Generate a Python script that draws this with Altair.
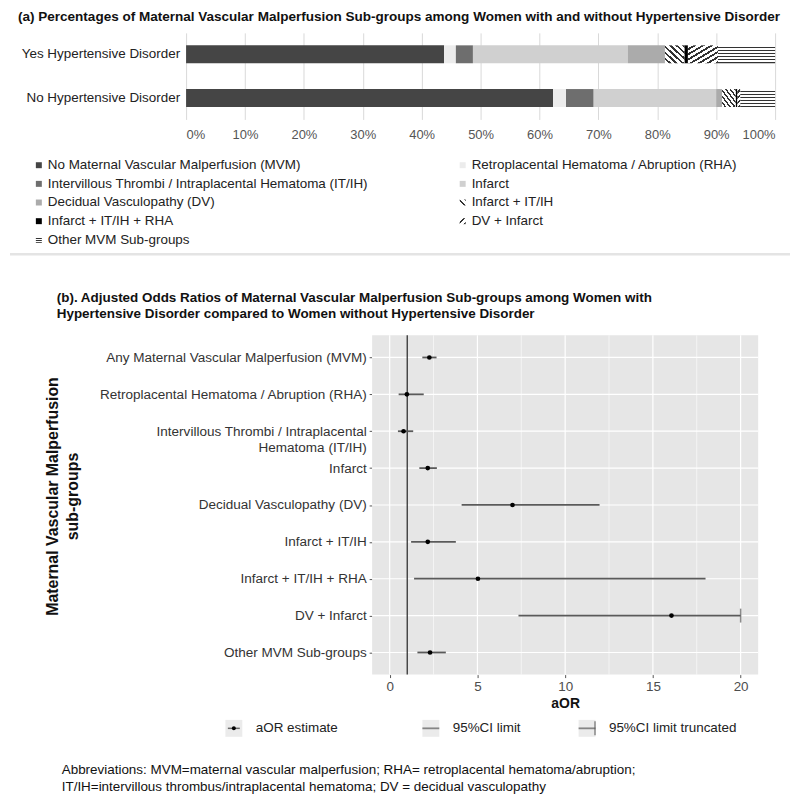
import altair as alt
import pandas as pd

FONT = "Liberation Sans, Arial, sans-serif"
W = 784

# ---------------- data: panel (a) ----------------
groups = ["Yes Hypertensive Disorder", "No Hypertensive Disorder"]
subgroups = [
    "No Maternal Vascular Malperfusion (MVM)",
    "Retroplacental Hematoma / Abruption (RHA)",
    "Intervillous Thrombi / Intraplacental Hematoma (IT/IH)",
    "Infarct",
    "Decidual Vasculopathy (DV)",
    "Infarct + IT/IH",
    "Infarct + IT/IH + RHA",
    "DV + Infarct",
    "Other MVM Sub-groups",
]
yes_pct = [43.8, 2.0, 2.9, 26.3, 6.3, 3.3, 0.6, 5.1, 9.7]
no_pct = [62.3, 2.2, 4.7, 20.8, 1.0, 2.3, 0.3, 0.5, 5.9]
pct_ticks = [0, 10, 20, 30, 40, 50, 60, 70, 80, 90, 100]

solid_subs = [subgroups[i] for i in (0, 1, 2, 3, 4, 6)]
solid_cols = ["#454545", "#ececec", "#6e6e6e", "#d0d0d0", "#ababab", "#000000"]

# ---------------- data: panel (b) ----------------
forest_labels = [
    "Any Maternal Vascular Malperfusion (MVM)",
    "Retroplacental Hematoma / Abruption (RHA)",
    "Intervillous Thrombi / Intraplacental\nHematoma (IT/IH)",
    "Infarct",
    "Decidual Vasculopathy (DV)",
    "Infarct + IT/IH",
    "Infarct + IT/IH + RHA",
    "DV + Infarct",
    "Other MVM Sub-groups",
]
aor = [2.26, 0.98, 0.79, 2.17, 7.0, 2.17, 5.03, 16.06, 2.30]
ci_low = [1.86, 0.51, 0.47, 1.69, 4.1, 1.22, 1.39, 7.34, 1.58]
ci_high = [2.67, 1.94, 1.34, 2.69, 11.96, 3.77, 18.0, 20.0, 3.2]
truncated = [False, False, False, False, False, False, False, True, False]
aor_limits = [-1, 21]
major_ticks = [0, 5, 10, 15, 20]
minor_ticks = [2.5, 7.5, 12.5, 17.5]
null_value = [1]
legend_b_items = ["aOR estimate", "95%CI limit", "95%CI limit truncated"]

title_a = ("(a) Percentages of Maternal Vascular Malperfusion Sub-groups among Women "
           "with and without Hypertensive Disorder")
title_b = ["(b). Adjusted Odds Ratios of Maternal Vascular Malperfusion Sub-groups among Women with",
           "Hypertensive Disorder compared to Women without Hypertensive Disorder"]
y_title_b = ["Maternal Vascular Malperfusion", "sub-groups"]
abbrev = ["Abbreviations: MVM=maternal vascular malperfusion; RHA= retroplacental hematoma/abruption;",
          "IT/IH=intervillous thrombus/intraplacental hematoma; DV = decidual vasculopathy"]


def stripes(n, frac=0.42, dark="#333333", light="#ffffff"):
    st = []
    for k in range(n):
        a, b, c = k / n, (k + 1 - frac) / n, (k + 1) / n
        st += [{"offset": a, "color": light}, {"offset": b, "color": light},
               {"offset": b, "color": dark}, {"offset": c, "color": dark}]
    return st


def grad(n, x1, y1, x2, y2, frac=0.42):
    return {"gradient": "linear", "x1": x1, "y1": y1, "x2": x2, "y2": y2,
            "stops": stripes(n, frac)}


hatches = {
    "Infarct + IT/IH": grad(6, 0, 1, 1, 0),
    "DV + Infarct": grad(7, 0, 0, 1, 1),
    "Other MVM Sub-groups": grad(6, 0, 0, 0, 1, 0.4),
}
legend_hatches = {
    "Infarct + IT/IH": grad(2, 0, 1, 1, 0, 0.35),
    "DV + Infarct": grad(2, 0, 0, 1, 1, 0.35),
    "Other MVM Sub-groups": grad(3, 0, 0, 0, 1, 0.4),
}

# ---------------- P0: title (a) ----------------
p0 = alt.Chart(pd.DataFrame({"t": [title_a]})).mark_text(
    align="center", baseline="top", font=FONT, fontSize=13.6, fontWeight="bold", color="#111"
).encode(text="t:N", x=alt.value(391), y=alt.value(0)).properties(width=W, height=23)

# ---------------- P1: stacked bars ----------------
rows = []
for g, vals in zip(groups, [yes_pct, no_pct]):
    for i, (s, v) in enumerate(zip(subgroups, vals)):
        rows.append({"group": g, "sub": s, "pct": v, "order": i})
bar_df = pd.DataFrame(rows)

xs_a = alt.Scale(domain=[0, 100], range=[177, 769], nice=False)
ys_a = alt.Scale(domain=groups, range=[0, 87], paddingInner=0.59, paddingOuter=0.285)
x_axis_a = alt.Axis(values=pct_ticks, labelExpr="datum.value + '%'", grid=True, gridColor="#d9d9d9",
                    gridWidth=1, domain=False, ticks=False, labelPadding=9, labelFontSize=13,
                    labelColor="#555", labelFont=FONT, title=None)
base = alt.Chart(bar_df).transform_stack(
    stack="pct", as_=["x0", "x1"], groupby=["group"], sort=[alt.SortField("order", order="ascending")]
)
x_a = alt.X("x0:Q", scale=xs_a, axis=x_axis_a)
y_a = alt.Y("group:N", scale=ys_a, axis=None)

solid_layer = base.transform_filter(alt.FieldOneOfPredicate(field="sub", oneOf=solid_subs)).mark_bar().encode(
    x=x_a, x2="x1:Q", y=y_a,
    color=alt.Color("sub:N", scale=alt.Scale(domain=solid_subs, range=solid_cols), legend=None),
)
hatch_layers = [
    base.transform_filter(alt.FieldEqualPredicate(field="sub", equal=s)).mark_bar(fill=g, stroke=None).encode(
        x=x_a, x2="x1:Q", y=y_a)
    for s, g in hatches.items()
]
row_labels = alt.Chart(pd.DataFrame({"group": groups})).mark_text(
    align="right", baseline="middle", font=FONT, fontSize=13.5, color="#222"
).encode(y=y_a, x=alt.value(171), text="group:N")

p1 = alt.layer(solid_layer, *hatch_layers, row_labels).properties(width=W, height=87)

# ---------------- P2: legend (a) ----------------
leg_df = pd.DataFrame({"sub": subgroups, "col": [i % 2 for i in range(9)], "row": [i // 2 for i in range(9)]})
lx = alt.Scale(domain=[0, 1], range=[38, 464])
ly = alt.Scale(domain=[0, 4], range=[46, 121])
leg_base = alt.Chart(leg_df)
leg_solid = leg_base.transform_filter(alt.FieldOneOfPredicate(field="sub", oneOf=solid_subs)).mark_square(
    size=36, opacity=1, xOffset=-9).encode(
    x=alt.X("col:Q", scale=lx, axis=None), y=alt.Y("row:Q", scale=ly, axis=None),
    color=alt.Color("sub:N", scale=alt.Scale(domain=solid_subs, range=solid_cols), legend=None))
leg_hatch = [
    leg_base.transform_filter(alt.FieldEqualPredicate(field="sub", equal=s)).mark_square(
        size=36, opacity=1, fill=g, xOffset=-9).encode(
        x=alt.X("col:Q", scale=lx, axis=None), y=alt.Y("row:Q", scale=ly, axis=None))
    for s, g in legend_hatches.items()
]
leg_text = leg_base.mark_text(align="left", baseline="middle", font=FONT, fontSize=13.5, color="#222").encode(
    x=alt.X("col:Q", scale=lx, axis=None), y=alt.Y("row:Q", scale=ly, axis=None), text="sub:N")
p2 = alt.layer(leg_solid, *leg_hatch, leg_text).properties(width=W, height=136)

# ---------------- P2b: separator + title (b) ----------------
sep = alt.Chart(pd.DataFrame({"a": [0]})).mark_rule(color="#e4e4e4", strokeWidth=2.5).encode(
    x=alt.value(0), x2=alt.value(W), y=alt.value(-0.5))
tb = alt.Chart(pd.DataFrame({"a": [0]})).mark_text(
    text=title_b, align="left", baseline="top", font=FONT, fontSize=13.5, fontWeight="bold",
    lineHeight=17, color="#111").encode(x=alt.value(47), y=alt.value(36))
p2b = alt.layer(sep, tb).properties(width=W, height=81)

# ---------------- P3: forest plot ----------------
forest_df = pd.DataFrame({"label": forest_labels, "aor": aor, "lo": ci_low, "hi": ci_high,
                          "trunc": truncated, "plo": aor_limits[0], "phi": aor_limits[1]})
xs_b = alt.Scale(domain=aor_limits, range=[364, 752], nice=False, zero=False)
ys_b = alt.Scale(type="point", domain=forest_labels, range=[0, 341], padding=0.6)
x_axis_b = alt.Axis(values=major_ticks, grid=False, domain=False, tickSize=3, tickColor="#555",
                    labelFontSize=13.5, labelColor="#4d4d4d", labelFont=FONT, labelPadding=2,
                    title="aOR", titleFont=FONT, titleFontSize=14, titleFontWeight="bold",
                    titleColor="#111", titlePadding=4)
y_axis_b = alt.Axis(orient="left", offset=-364, labelLimit=400, labelFontSize=13.6, labelColor="#333",
                    labelFont=FONT, labelExpr="split(datum.label, '\\n')", labelLineHeight=16,
                    tickSize=3, tickColor="#555", domain=False, grid=False, labelPadding=3, title=None)


def xb(f):
    return alt.X(f, type="quantitative", scale=xs_b, axis=x_axis_b)


yb = alt.Y("label:N", scale=ys_b, axis=y_axis_b)

bg = alt.Chart(pd.DataFrame({"plo": [aor_limits[0]], "phi": [aor_limits[1]]})).mark_rect(
    color="#e6e6e6").encode(x=xb("plo"), x2="phi:Q")
minor = alt.Chart(pd.DataFrame({"v": minor_ticks})).mark_rule(color="white", strokeWidth=0.6).encode(x=xb("v"))
major = alt.Chart(pd.DataFrame({"v": major_ticks})).mark_rule(color="white", strokeWidth=1.2).encode(x=xb("v"))
hgrid = alt.Chart(forest_df).mark_rule(color="white", strokeWidth=1.2).encode(x=xb("plo"), x2="phi:Q", y=yb)
ref = alt.Chart(pd.DataFrame({"v": null_value})).mark_rule(color="#333", strokeWidth=1.3).encode(x=xb("v"))
ci = alt.Chart(forest_df).mark_rule(color="#5a5a5a", strokeWidth=1.8).encode(x=xb("lo"), x2="hi:Q", y=yb)
trunc_mark = alt.Chart(forest_df).transform_filter("datum.trunc").mark_tick(
    color="#5a5a5a", size=14, thickness=1.5).encode(x=xb("hi"), y=yb)
pts = alt.Chart(forest_df).mark_circle(size=22, color="black", opacity=1).encode(x=xb("aor"), y=yb)
ytitle = alt.Chart(pd.DataFrame({"a": [0]})).mark_text(
    text=y_title_b, angle=270, align="center", baseline="middle", font=FONT, fontSize=16,
    fontWeight="bold", lineHeight=20, color="#111").encode(x=alt.value(43), y=alt.value(162))

p3 = alt.layer(bg, minor, major, hgrid, ref, ci, trunc_mark, pts, ytitle).properties(width=W, height=341)

# ---------------- P4: legend (b) + abbreviations ----------------
lb_df = pd.DataFrame({"item": legend_b_items, "pos": [0, 1, 2]})
lbx = alt.Scale(domain=[0, 1, 2], range=[225, 423, 580])
lb_x = alt.X("pos:Q", scale=lbx, axis=None)
lb_y = alt.value(54)
lbase = alt.Chart(lb_df)
lb_bg = lbase.mark_square(size=289, color="#ebebeb", opacity=1).encode(x=lb_x, y=lb_y)
lb_line0 = lbase.transform_filter("datum.pos == 0").mark_tick(
    orient="horizontal", size=12, thickness=1.5, color="#333").encode(x=lb_x, y=lb_y)
lb_line12 = lbase.transform_filter("datum.pos > 0").mark_tick(
    orient="horizontal", size=17, thickness=1.8, color="#5a5a5a").encode(x=lb_x, y=lb_y)
lb_dot = lbase.transform_filter("datum.pos == 0").mark_circle(size=16, color="black", opacity=1).encode(
    x=lb_x, y=lb_y)
lb_bar = lbase.transform_filter("datum.pos == 2").mark_tick(
    orient="vertical", size=14, thickness=1.5, color="#5a5a5a", xOffset=8).encode(x=lb_x, y=lb_y)
lb_text = lbase.mark_text(align="left", baseline="middle", dx=22, font=FONT, fontSize=13.5,
                          color="#222").encode(x=lb_x, y=lb_y, text="item:N")
abbr = alt.Chart(pd.DataFrame({"a": [0]})).mark_text(
    text=abbrev, align="left", baseline="top", font=FONT, fontSize=13.5, lineHeight=16.5, color="#111"
).encode(x=alt.value(52), y=alt.value(89))
p4 = alt.layer(lb_bg, lb_line0, lb_line12, lb_dot, lb_bar, lb_text, abbr).properties(width=W, height=100)

chart = alt.vconcat(p0, p1, p2, p2b, p3, p4, spacing=0, bounds="flush").properties(
    padding=0
).configure_view(stroke=None).resolve_scale(x="independent", y="independent", color="independent")

chart.save("out.html", embed_options={"renderer": "svg", "actions": False})
